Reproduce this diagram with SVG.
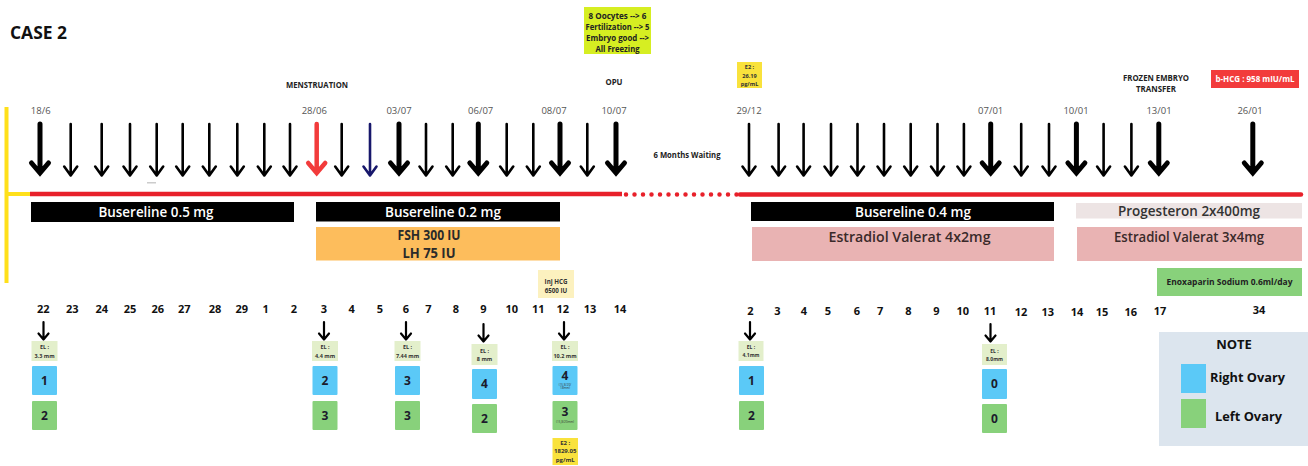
<svg xmlns="http://www.w3.org/2000/svg" xmlns:xlink="http://www.w3.org/1999/xlink" width="1308" height="466" viewBox="0 0 1308 466">
<style>
text{font-family:"Open Sans","Noto Sans","DejaVu Sans",sans-serif;font-weight:700;text-anchor:middle}
.date{font-size:9.5px;font-weight:400;fill:#555}
.lbl{font-size:8px;fill:#222}
.bar{font-size:13.5px;font-weight:600;fill:#fff}
.barD{font-size:14.5px;font-weight:600;fill:#3a2a2a}
.num{font-size:11px;fill:#111}
.el{font-size:5.5px;fill:#333}
.ov{font-size:12px;fill:#1c1c2c}
.tiny{font-size:3px;font-weight:400;fill:#333}
.sm{font-size:6.2px;fill:#333}
.thin{fill:none;stroke:#000;stroke-width:2.6;stroke-linecap:round;stroke-linejoin:round}
.thick{fill:none;stroke:#000;stroke-width:5;stroke-linecap:round;stroke-linejoin:miter}
.small{fill:none;stroke:#000;stroke-width:2.2;stroke-linecap:round;stroke-linejoin:round}
.elbox{fill:#e3efcb}
.rbox{fill:#5bc9f7}
.lbox{fill:#88d17b}
</style>
<defs>
<path id="aThin" d="M0,124 V175 M-6.5,166.5 L0,175.5 L6.5,166.5"/>
<path id="aThick" d="M0,124 V172 M-8.5,163 L0,173 L8.5,163"/>
<path id="aSmall" d="M0,0 V17 M-5,11.5 L0,17.5 L5,11.5"/>
</defs>
<rect width="1308" height="466" fill="#fff"/>

<text x="10" y="39" style="font-size:18px;text-anchor:start;fill:#111" textLength="57" lengthAdjust="spacingAndGlyphs">CASE 2</text>

<g id="connectors">
  <line x1="6.5" y1="107" x2="6.5" y2="283" stroke="#ffe01a" stroke-width="4"/>
  <line x1="5" y1="194" x2="31" y2="194" stroke="#ffe01a" stroke-width="4"/>
  <line x1="30" y1="194" x2="622" y2="194" stroke="#e8202a" stroke-width="4.5"/>
  <line x1="626" y1="194.5" x2="737" y2="194.5" stroke="#e8202a" stroke-width="4.5" stroke-linecap="round" stroke-dasharray="0 8.5"/>
  <line x1="740" y1="194.5" x2="1301" y2="194.5" stroke="#e8202a" stroke-width="4.5" stroke-linecap="round"/>
  <rect x="147" y="182" width="9" height="1.5" fill="#ccc"/>
  <g id="arrows-left">
    <use href="#aThick" class="thick" x="40"/>
    <use href="#aThin" class="thin" x="70.7"/>
    <use href="#aThin" class="thin" x="101.7"/>
    <use href="#aThin" class="thin" x="130"/>
    <use href="#aThin" class="thin" x="156.7"/>
    <use href="#aThin" class="thin" x="182.7"/>
    <use href="#aThin" class="thin" x="209.3"/>
    <use href="#aThin" class="thin" x="237.3"/>
    <use href="#aThin" class="thin" x="264.3"/>
    <use href="#aThin" class="thin" x="290"/>
    <use href="#aThick" class="thick" x="316.7" style="stroke:#f23b3b;stroke-width:4.5"/>
    <use href="#aThin" class="thin" x="341.7"/>
    <use href="#aThin" class="thin" x="370" style="stroke:#17176b"/>
    <use href="#aThick" class="thick" x="399"/>
    <use href="#aThin" class="thin" x="426"/>
    <use href="#aThin" class="thin" x="452.7"/>
    <use href="#aThick" class="thick" x="478.3"/>
    <use href="#aThin" class="thin" x="506.7"/>
    <use href="#aThin" class="thin" x="533.3"/>
    <use href="#aThick" class="thick" x="560"/>
    <use href="#aThin" class="thin" x="587.3"/>
    <use href="#aThick" class="thick" x="616"/>
  </g>
  <g id="arrows-right">
    <use href="#aThin" class="thin" x="749"/>
    <use href="#aThin" class="thin" x="778.6"/>
    <use href="#aThin" class="thin" x="803.6"/>
    <use href="#aThin" class="thin" x="831"/>
    <use href="#aThin" class="thin" x="857.5"/>
    <use href="#aThin" class="thin" x="884"/>
    <use href="#aThin" class="thin" x="910.7"/>
    <use href="#aThin" class="thin" x="937.5"/>
    <use href="#aThin" class="thin" x="963.9"/>
    <use href="#aThick" class="thick" x="990.7"/>
    <use href="#aThin" class="thin" x="1021.2"/>
    <use href="#aThin" class="thin" x="1049"/>
    <use href="#aThick" class="thick" x="1076.4"/>
    <use href="#aThin" class="thin" x="1103.6"/>
    <use href="#aThin" class="thin" x="1131.4"/>
    <use href="#aThick" class="thick" x="1158.8"/>
    <use href="#aThick" class="thick" x="1252.8"/>
  </g>
  <g id="arrows-bottom">
    <use href="#aSmall" class="small" x="43.5" y="322"/>
    <use href="#aSmall" class="small" x="324" y="322"/>
    <use href="#aSmall" class="small" x="406" y="322"/>
    <use href="#aSmall" class="small" x="483.5" y="324"/>
    <use href="#aSmall" class="small" x="564" y="322"/>
    <use href="#aSmall" class="small" x="750" y="322"/>
    <use href="#aSmall" class="small" x="990.5" y="324"/>
  </g>
</g>

<g id="dates">
  <text class="date" x="40.7" y="114">18/6</text>
  <text class="date" x="314.3" y="114">28/06</text>
  <text class="date" x="399" y="114">03/07</text>
  <text class="date" x="480.7" y="114">06/07</text>
  <text class="date" x="554" y="114">08/07</text>
  <text class="date" x="614" y="114">10/07</text>
  <text class="date" x="749" y="114">29/12</text>
  <text class="date" x="990.7" y="114">07/01</text>
  <text class="date" x="1076" y="114">10/01</text>
  <text class="date" x="1159" y="114">13/01</text>
  <text class="date" x="1250" y="114">26/01</text>
</g>

<g id="events">
  <text class="lbl" x="317" y="88" textLength="62" lengthAdjust="spacingAndGlyphs">MENSTRUATION</text>
  <text class="lbl" x="614" y="85" textLength="17" lengthAdjust="spacingAndGlyphs">OPU</text>
  <text class="lbl" x="1156" y="80.5" textLength="66" lengthAdjust="spacingAndGlyphs">FROZEN EMBRYO</text>
  <text class="lbl" x="1156" y="91.5" textLength="40" lengthAdjust="spacingAndGlyphs">TRANSFER</text>
  <text class="lbl" x="687" y="158" style="font-size:8.5px" textLength="67" lengthAdjust="spacingAndGlyphs">6 Months Waiting</text>
</g>

<g id="opu-result">
  <rect x="584" y="7" width="67" height="47" fill="#d6ee22"/>
  <text class="lbl" x="617.5" y="19" style="font-size:8.3px" textLength="58" lengthAdjust="spacingAndGlyphs">8 Oocytes --&gt; 6</text>
  <text class="lbl" x="617.5" y="30" style="font-size:8.3px" textLength="64" lengthAdjust="spacingAndGlyphs">Fertilization --&gt; 5</text>
  <text class="lbl" x="617.5" y="41" style="font-size:8.3px" textLength="63" lengthAdjust="spacingAndGlyphs">Embryo good --&gt;</text>
  <text class="lbl" x="617.5" y="52" style="font-size:8.3px" textLength="44" lengthAdjust="spacingAndGlyphs">All Freezing</text>
</g>

<g id="e2-top">
  <rect x="737" y="62" width="25" height="26" fill="#f9e23c"/>
  <text class="sm" x="749.5" y="69" style="font-size:5.6px">E2 :</text>
  <text class="sm" x="749.5" y="78" style="font-size:5.6px">26.19</text>
  <text class="sm" x="749.5" y="86.3" style="font-size:5.6px">pg/mL</text>
</g>

<g id="bhcg">
  <rect x="1211" y="70" width="88" height="18" fill="#f23b3b"/>
  <text x="1255" y="82" style="font-size:8px;fill:#fff" textLength="79" lengthAdjust="spacingAndGlyphs">b-HCG : 958 mIU/mL</text>
</g>

<g id="bus05">
  <rect x="31" y="202" width="263" height="20" fill="#000"/>
  <text class="bar" x="156" y="217" textLength="115" lengthAdjust="spacingAndGlyphs">Busereline 0.5 mg</text>
</g>
<g id="bus02">
  <rect x="316" y="202" width="244" height="19.5" fill="#000"/>
  <text class="bar" x="443" y="217" textLength="116" lengthAdjust="spacingAndGlyphs">Busereline 0.2 mg</text>
</g>
<g id="fsh">
  <rect x="316" y="227" width="244" height="33.5" fill="#fdbd5c"/>
  <text class="bar" x="429" y="240" style="fill:#2a2a2a;font-weight:700" textLength="63" lengthAdjust="spacingAndGlyphs">FSH 300 IU</text>
  <text class="bar" x="429" y="258" style="fill:#2a2a2a;font-weight:700" textLength="53" lengthAdjust="spacingAndGlyphs">LH 75 IU</text>
</g>
<g id="inj-hcg">
  <rect x="538" y="270" width="36" height="28" fill="#fcf1bf"/>
  <text class="sm" x="556" y="283.5">Inj HCG</text>
  <text class="sm" x="556" y="293">6500 IU</text>
</g>
<g id="bus04">
  <rect x="751" y="202" width="303" height="19" fill="#000"/>
  <text class="bar" x="913" y="216.8" textLength="116" lengthAdjust="spacingAndGlyphs">Busereline 0.4 mg</text>
</g>
<g id="est42">
  <rect x="752" y="227" width="302" height="34" fill="#e9b3b3"/>
  <text class="barD" x="909.5" y="242" textLength="162" lengthAdjust="spacingAndGlyphs">Estradiol Valerat 4x2mg</text>
</g>
<g id="prog">
  <rect x="1076" y="203" width="226" height="15.5" fill="#ede4e4"/>
  <text class="bar" x="1189" y="215.5" style="fill:#333" textLength="142" lengthAdjust="spacingAndGlyphs">Progesteron 2x400mg</text>
</g>
<g id="est34">
  <rect x="1077" y="227" width="225" height="34" fill="#e9b3b3"/>
  <text class="barD" x="1189" y="242" textLength="150" lengthAdjust="spacingAndGlyphs">Estradiol Valerat 3x4mg</text>
</g>
<g id="enox">
  <rect x="1157" y="268" width="145" height="28" fill="#88d17b"/>
  <text x="1229.5" y="285" style="font-size:8px;fill:#222" textLength="126" lengthAdjust="spacingAndGlyphs">Enoxaparin Sodium 0.6ml/day</text>
</g>

<g id="days-left">
  <text class="num" x="43.3" y="313">22</text>
  <text class="num" x="72.3" y="313">23</text>
  <text class="num" x="101.7" y="313">24</text>
  <text class="num" x="130" y="313">25</text>
  <text class="num" x="157.7" y="313">26</text>
  <text class="num" x="184.3" y="313">27</text>
  <text class="num" x="215" y="313">28</text>
  <text class="num" x="241.7" y="313">29</text>
  <text class="num" x="265.7" y="313">1</text>
  <text class="num" x="294" y="313">2</text>
  <text class="num" x="324" y="313">3</text>
  <text class="num" x="351.7" y="313">4</text>
  <text class="num" x="380" y="313">5</text>
  <text class="num" x="406" y="313">6</text>
  <text class="num" x="428.3" y="313">7</text>
  <text class="num" x="456" y="313">8</text>
  <text class="num" x="483.3" y="313">9</text>
  <text class="num" x="511.7" y="313">10</text>
  <text class="num" x="538.3" y="313">11</text>
  <text class="num" x="562.7" y="313">12</text>
  <text class="num" x="590" y="313">13</text>
  <text class="num" x="620" y="313">14</text>
</g>
<g id="days-right">
  <text class="num" x="750.4" y="315">2</text>
  <text class="num" x="777.5" y="315">3</text>
  <text class="num" x="803.9" y="315">4</text>
  <text class="num" x="827.9" y="315">5</text>
  <text class="num" x="857" y="315">6</text>
  <text class="num" x="880.2" y="315">7</text>
  <text class="num" x="908.5" y="315">8</text>
  <text class="num" x="936.4" y="315">9</text>
  <text class="num" x="962.8" y="315">10</text>
  <text class="num" x="990" y="315">11</text>
  <text class="num" x="1021" y="316">12</text>
  <text class="num" x="1047.7" y="316">13</text>
  <text class="num" x="1077" y="316">14</text>
  <text class="num" x="1102" y="316">15</text>
  <text class="num" x="1130.7" y="316">16</text>
  <text class="num" x="1160" y="314.5">17</text>
  <text class="num" x="1259" y="314">34</text>
</g>

<g id="scan-22">
  <rect class="elbox" x="31.5" y="341" width="26" height="20"/>
  <text class="el" x="44.5" y="349">EL :</text>
  <text class="el" x="44.5" y="357.5">3.3 mm</text>
  <rect class="rbox" x="32" y="366" width="25" height="29" rx="1"/>
  <text class="ov" x="44.5" y="384.5">1</text>
  <rect class="lbox" x="32" y="401" width="25" height="29" rx="1"/>
  <text class="ov" x="44.5" y="419.5">2</text>
</g>
<g id="scan-3">
  <rect class="elbox" x="312" y="341" width="26" height="20"/>
  <text class="el" x="325" y="349">EL :</text>
  <text class="el" x="325" y="357.5">4.4 mm</text>
  <rect class="rbox" x="312.5" y="366" width="25" height="29" rx="1"/>
  <text class="ov" x="325" y="384.5">2</text>
  <rect class="lbox" x="312.5" y="401" width="25" height="29" rx="1"/>
  <text class="ov" x="325" y="419.5">3</text>
</g>
<g id="scan-6">
  <rect class="elbox" x="394.5" y="341" width="26" height="20"/>
  <text class="el" x="407.5" y="349">EL :</text>
  <text class="el" x="407.5" y="357.5">7.44 mm</text>
  <rect class="rbox" x="395" y="366" width="25" height="29" rx="1"/>
  <text class="ov" x="407.5" y="384.5">3</text>
  <rect class="lbox" x="395" y="401" width="25" height="29" rx="1"/>
  <text class="ov" x="407.5" y="419.5">3</text>
</g>
<g id="scan-9">
  <rect class="elbox" x="471.5" y="344" width="26" height="21"/>
  <text class="el" x="484.5" y="352.5">EL :</text>
  <text class="el" x="484.5" y="361">8 mm</text>
  <rect class="rbox" x="472" y="369" width="25" height="30" rx="1"/>
  <text class="ov" x="484.5" y="388">4</text>
  <rect class="lbox" x="472" y="404" width="25" height="29" rx="1"/>
  <text class="ov" x="484.5" y="422.5">2</text>
</g>
<g id="scan-12">
  <rect class="elbox" x="552" y="341" width="26" height="20"/>
  <text class="el" x="565" y="349">EL :</text>
  <text class="el" x="565" y="357.5">10.2 mm</text>
  <rect class="rbox" x="552.5" y="366" width="25" height="29" rx="1"/>
  <text class="ov" x="565" y="380">4</text>
  <text class="tiny" x="565" y="385.5">(15,8/20/</text>
  <text class="tiny" x="565" y="389">18mm)</text>
  <rect class="lbox" x="552.5" y="401" width="25" height="29" rx="1"/>
  <text class="ov" x="565" y="416">3</text>
  <text class="tiny" x="565" y="422.5">(15,8/20mm)</text>
  <rect x="552.5" y="438" width="25.5" height="27" fill="#f9e23c"/>
  <text class="sm" x="565.2" y="444.5" style="font-size:6px">E2 :</text>
  <text class="sm" x="565.2" y="453" style="font-size:6px">1829.05</text>
  <text class="sm" x="565.2" y="462" style="font-size:6px">pg/mL</text>
</g>
<g id="scan-r2">
  <rect class="elbox" x="738.5" y="341" width="25" height="20"/>
  <text class="el" x="751" y="349" style="font-size:5px">EL :</text>
  <text class="el" x="751" y="357" style="font-size:5px">4.1mm</text>
  <rect class="rbox" x="739" y="366" width="25" height="29" rx="1"/>
  <text class="ov" x="751.5" y="384.5">1</text>
  <rect class="lbox" x="739" y="401" width="25" height="29" rx="1"/>
  <text class="ov" x="751.5" y="419.5">2</text>
</g>
<g id="scan-r11">
  <rect class="elbox" x="982" y="344" width="25" height="21"/>
  <text class="el" x="994.5" y="352.5" style="font-size:5px">EL :</text>
  <text class="el" x="994.5" y="360.5" style="font-size:5px">8.0mm</text>
  <rect class="rbox" x="982" y="369" width="25" height="30" rx="1"/>
  <text class="ov" x="994.5" y="388">0</text>
  <rect class="lbox" x="982" y="404" width="25" height="29" rx="1"/>
  <text class="ov" x="994.5" y="422.5">0</text>
</g>

<g id="legend">
  <rect x="1159" y="332" width="149" height="114" fill="#dce5ee"/>
  <text x="1234" y="349" style="font-size:13px;fill:#111">NOTE</text>
  <rect class="rbox" x="1181" y="364" width="25" height="29"/>
  <text x="1247.5" y="381.5" style="font-size:13px;fill:#111" textLength="75" lengthAdjust="spacingAndGlyphs">Right Ovary</text>
  <rect class="lbox" x="1181" y="399" width="25" height="29"/>
  <text x="1248.5" y="420.5" style="font-size:13px;fill:#111" textLength="67" lengthAdjust="spacingAndGlyphs">Left Ovary</text>
</g>
</svg>
